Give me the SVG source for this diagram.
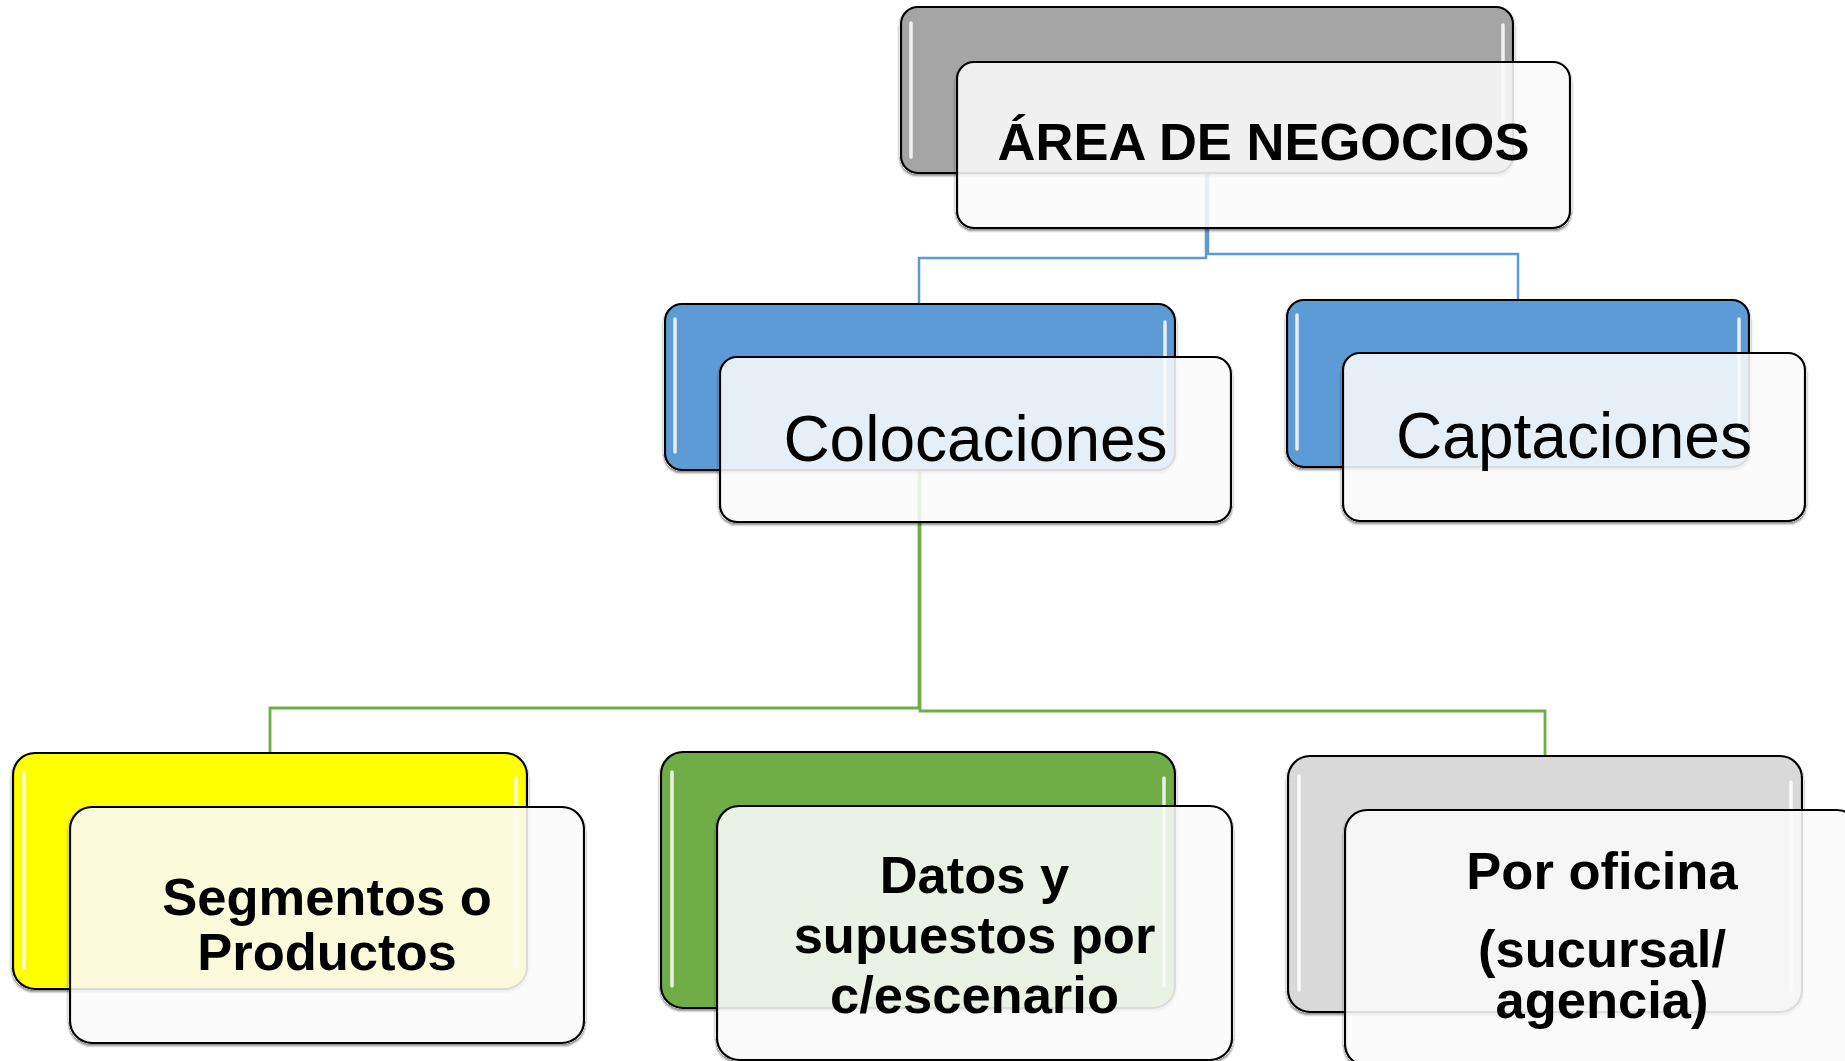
<svg xmlns="http://www.w3.org/2000/svg" width="1845" height="1061" viewBox="0 0 1845 1061">
<defs>
<style>
.back{stroke:#000;stroke-width:2.2}
.front{fill:#fbfbfb;fill-opacity:0.88;stroke:#000;stroke-width:2.2}
.hl{stroke:#ffffff;stroke-width:3.5;stroke-linecap:round;stroke-opacity:0.85;fill:none}
.t{font-family:"Liberation Sans",Arial,sans-serif;fill:#000;text-anchor:middle}
.b{font-weight:bold;font-size:52.5px}
.r{font-size:64px}
.blue{fill:none;stroke:#5b9bd5;stroke-width:2.5}
.green{fill:none;stroke:#70ad47;stroke-width:2.8}
</style>
<filter id="sh" x="-5%" y="-5%" width="110%" height="115%">
<feComponentTransfer in="SourceAlpha" result="a"><feFuncA type="linear" slope="20"/></feComponentTransfer>
<feGaussianBlur in="a" stdDeviation="1" result="b"/>
<feOffset in="b" dy="1.5" result="c"/>
<feComposite in="c" in2="a" operator="out" result="d"/>
<feComponentTransfer in="d" result="e"><feFuncA type="linear" slope="0.45"/></feComponentTransfer>
<feMerge><feMergeNode in="e"/><feMergeNode in="SourceGraphic"/></feMerge>
</filter>
</defs>
<rect width="1845" height="1061" fill="#ffffff"/>
<g id="connectors">
<path class="blue" d="M1206,173 V258 H919 V304"/>
<path class="blue" d="M1208,173 V254 H1518 V300"/>
<path class="green" d="M919,470 V708 H270 V753"/>
<path class="green" d="M920,470 V711 H1545 V756"/>
</g>
<g id="node-area">
<rect class="back" x="901" y="7" width="612" height="166" rx="17" fill="#a5a5a5" filter="url(#sh)"/>
<line class="hl" x1="911" y1="23" x2="911" y2="157"/>
<line class="hl" x1="1503" y1="25" x2="1503" y2="157"/>
<rect class="front" x="957" y="62" width="613" height="166" rx="17" filter="url(#sh)"/>
<text class="t b" x="1263.5" y="160">ÁREA DE NEGOCIOS</text>
</g>
<g id="node-colocaciones">
<rect class="back" x="665" y="304" width="510" height="166" rx="17" fill="#5b9bd5" filter="url(#sh)"/>
<line class="hl" x1="675" y1="319" x2="675" y2="452"/>
<line class="hl" x1="1165" y1="322" x2="1165" y2="452"/>
<rect class="front" x="720" y="357" width="511" height="165" rx="17" filter="url(#sh)"/>
<text class="t r" x="975.5" y="461">Colocaciones</text>
</g>
<g id="node-captaciones">
<rect class="back" x="1287" y="300" width="462" height="167" rx="17" fill="#5b9bd5" filter="url(#sh)"/>
<line class="hl" x1="1297" y1="315" x2="1297" y2="449"/>
<line class="hl" x1="1739" y1="319" x2="1739" y2="449"/>
<rect class="front" x="1343" y="353" width="462" height="168" rx="17" filter="url(#sh)"/>
<text class="t r" x="1574" y="458">Captaciones</text>
</g>
<g id="node-segmentos">
<rect class="back" x="13" y="753" width="514" height="236" rx="22" fill="#ffff00" filter="url(#sh)"/>
<line class="hl" x1="24" y1="773" x2="24" y2="968"/>
<line class="hl" x1="516" y1="778" x2="516" y2="968"/>
<rect class="front" x="70" y="807" width="514" height="236" rx="22" filter="url(#sh)"/>
<text class="t b" x="327" y="915" font-size="53">Segmentos o</text>
<text class="t b" x="327" y="970" font-size="53">Productos</text>
</g>
<g id="node-datos">
<rect class="back" x="661" y="752" width="514" height="256" rx="22" fill="#70ad47" filter="url(#sh)"/>
<line class="hl" x1="672" y1="772" x2="672" y2="986"/>
<line class="hl" x1="1164" y1="778" x2="1164" y2="986"/>
<rect class="front" x="717" y="806" width="515" height="254" rx="22" filter="url(#sh)"/>
<text class="t b" x="974.5" y="893">Datos y</text>
<text class="t b" x="974.5" y="953">supuestos por</text>
<text class="t b" x="974.5" y="1013">c/escenario</text>
</g>
<g id="node-oficina">
<rect class="back" x="1288" y="756" width="514" height="256" rx="22" fill="#d9d9d9" filter="url(#sh)"/>
<line class="hl" x1="1299" y1="776" x2="1299" y2="990"/>
<line class="hl" x1="1791" y1="782" x2="1791" y2="990"/>
<rect class="front" x="1345" y="810" width="514" height="256" rx="22" filter="url(#sh)"/>
<text class="t b" x="1602" y="889">Por oficina</text>
<text class="t b" x="1602" y="967">(sucursal/</text>
<text class="t b" x="1602" y="1018">agencia)</text>
</g>
</svg>
